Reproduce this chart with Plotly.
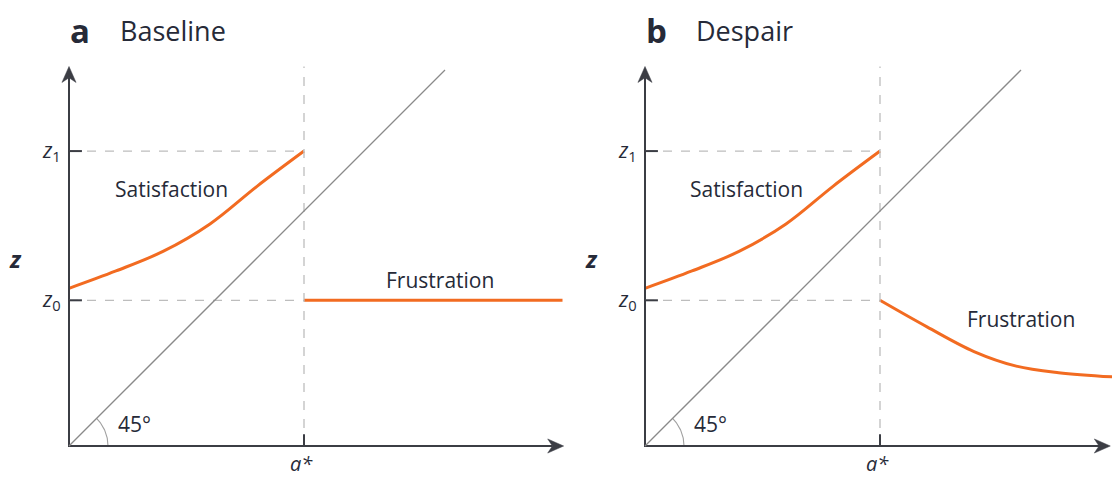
import numpy as np
import plotly.graph_objects as go

# Threshold aspiration and reference levels (axis units)
A_STAR = 1.0
Z0 = 0.62
Z1 = 1.255

# Satisfaction branch (a < a*), same in both panels
sat_x = [0.0, 0.2, 0.4, 0.6, 0.8, 1.0]
sat_y = [0.671, 0.745, 0.828, 0.945, 1.105, 1.255]

# Frustration branch (a > a*)
frus_a_x = [1.0, 2.1]
frus_a_y = [0.62, 0.62]
frus_b_x = [1.0, 1.2, 1.4, 1.58, 1.76, 1.99]
frus_b_y = [0.62, 0.507, 0.402, 0.340, 0.312, 0.294]

panel_letters = ["a", "b"]
panel_titles = ["Baseline", "Despair"]
y_tick_labels = ["<i>z</i><sub>0</sub>", "<i>z</i><sub>1</sub>"]
x_tick_label = "<i>a*</i>"
axis_label = "<b><i>z</i></b>"

FONT = "Open Sans"
ORANGE = "#F26B21"
AXIS = "#3b3d44"
DIAG = "#8a8a8a"
DASH = "#bdbdbd"
TEXT = "#262a38"

W, H = 1112, 477
SCALE = 235.0  # pixels per axis unit
ORIGINS = [69, 645]          # pixel x of each panel's origin
DOMAINS_PX = [(0, 576), (576, 1112)]
ORIGIN_Y = 446

fig = go.Figure()

frus = [(frus_a_x, frus_a_y), (frus_b_x, frus_b_y)]
x_ends = [2.105, 1.98]
y_top = 1.615
diag_end = 1.6

# arrowhead proportions (axis units): length, half-width, notch depth
AH_LEN, AH_HALF, AH_NOTCH = 0.068, 0.03, 0.048

for i in range(2):
    xs = "" if i == 0 else str(i + 1)
    xr = "x" + xs
    yr = "y" + xs
    x0px, x1px = DOMAINS_PX[i]
    ox = ORIGINS[i]
    fig.update_layout({
        "xaxis" + xs: dict(domain=[x0px / W, x1px / W],
                           range=[(x0px - ox) / SCALE, (x1px - ox) / SCALE],
                           visible=False, anchor=yr, fixedrange=True),
        "yaxis" + xs: dict(domain=[0, 1],
                           range=[(ORIGIN_Y - H) / SCALE, ORIGIN_Y / SCALE],
                           visible=False, anchor=xr, fixedrange=True),
    })

    # dashed guides
    for zv in (Z0, Z1):
        fig.add_shape(type="line", xref=xr, yref=yr, x0=0, x1=A_STAR, y0=zv, y1=zv,
                      line=dict(color=DASH, width=1.3, dash="dash"))
    fig.add_shape(type="line", xref=xr, yref=yr, x0=A_STAR, x1=A_STAR, y0=0, y1=y_top,
                  line=dict(color=DASH, width=1.3, dash="dash"))

    # 45-degree line
    fig.add_shape(type="line", xref=xr, yref=yr, x0=0, y0=0, x1=diag_end, y1=diag_end,
                  line=dict(color=DIAG, width=1.3))

    # angle arc
    th = np.linspace(0, np.pi / 4, 30)
    r = 0.166
    fig.add_trace(go.Scatter(x=r * np.cos(th), y=r * np.sin(th), mode="lines",
                             line=dict(color="#a0a0a0", width=1.1),
                             xaxis=xr, yaxis=yr, showlegend=False, hoverinfo="skip"))

    # ticks
    for zv in (Z0, Z1):
        fig.add_shape(type="line", xref=xr, yref=yr, x0=0, x1=0.055, y0=zv, y1=zv,
                      line=dict(color=AXIS, width=2))
    fig.add_shape(type="line", xref=xr, yref=yr, x0=A_STAR, x1=A_STAR, y0=0, y1=0.05,
                  line=dict(color=AXIS, width=2))

    # curves
    fig.add_trace(go.Scatter(x=sat_x, y=sat_y, mode="lines",
                             line=dict(color=ORANGE, width=3, shape="spline", smoothing=1.0),
                             xaxis=xr, yaxis=yr, showlegend=False, hoverinfo="skip"))
    fx, fy = frus[i]
    fig.add_trace(go.Scatter(x=fx, y=fy, mode="lines",
                             line=dict(color=ORANGE, width=3, shape="spline", smoothing=1.0),
                             xaxis=xr, yaxis=yr, showlegend=False, hoverinfo="skip"))

    # axes: lines plus filled notched arrowheads
    xe = x_ends[i]
    fig.add_trace(go.Scatter(x=[xe - AH_NOTCH, 0, 0], y=[0, 0, y_top - AH_NOTCH], mode="lines",
                             line=dict(color=AXIS, width=2),
                             xaxis=xr, yaxis=yr, showlegend=False, hoverinfo="skip"))
    fig.add_trace(go.Scatter(
        x=[xe, xe - AH_LEN, xe - AH_NOTCH, xe - AH_LEN, xe],
        y=[0, AH_HALF, 0, -AH_HALF, 0],
        mode="lines", fill="toself", fillcolor=AXIS, line=dict(color=AXIS, width=0.5),
        xaxis=xr, yaxis=yr, showlegend=False, hoverinfo="skip"))
    fig.add_trace(go.Scatter(
        x=[0, AH_HALF, 0, -AH_HALF, 0],
        y=[y_top, y_top - AH_LEN, y_top - AH_NOTCH, y_top - AH_LEN, y_top],
        mode="lines", fill="toself", fillcolor=AXIS, line=dict(color=AXIS, width=0.5),
        xaxis=xr, yaxis=yr, showlegend=False, hoverinfo="skip"))

    # text
    def txt(x, y, s, size=18, xanchor="center", **kw):
        fig.add_annotation(x=x, y=y, xref=xr, yref=yr, text=s, showarrow=False,
                           xanchor=xanchor, yanchor="middle",
                           font=dict(family=FONT, size=size, color=TEXT), **kw)

    txt(-0.025, Z0, y_tick_labels[0], size=21, xanchor="right")
    txt(-0.025, Z1, y_tick_labels[1], size=21, xanchor="right")
    txt(A_STAR, -0.073, x_tick_label + " ", size=20)
    txt(-0.228, 0.80, axis_label, size=24)
    txt(0.28, 0.092, "45°", size=21)
    txt(0.438 if i == 0 else 0.43, 1.094, "Satisfaction", size=21)
    if i == 0:
        txt(1.579, 0.706, "Frustration", size=21)
    else:
        txt(1.60, 0.54, "Frustration", size=21)
    txt(0.047, 1.77, "<b>" + panel_letters[i] + "</b>", size=33)
    txt(0.209, 1.77, panel_titles[i], size=27, xanchor="left")

fig.update_layout(width=W, height=H, margin=dict(l=0, r=0, t=0, b=0),
                  paper_bgcolor="white", plot_bgcolor="white", showlegend=False)

fig.write_html("out.html")
